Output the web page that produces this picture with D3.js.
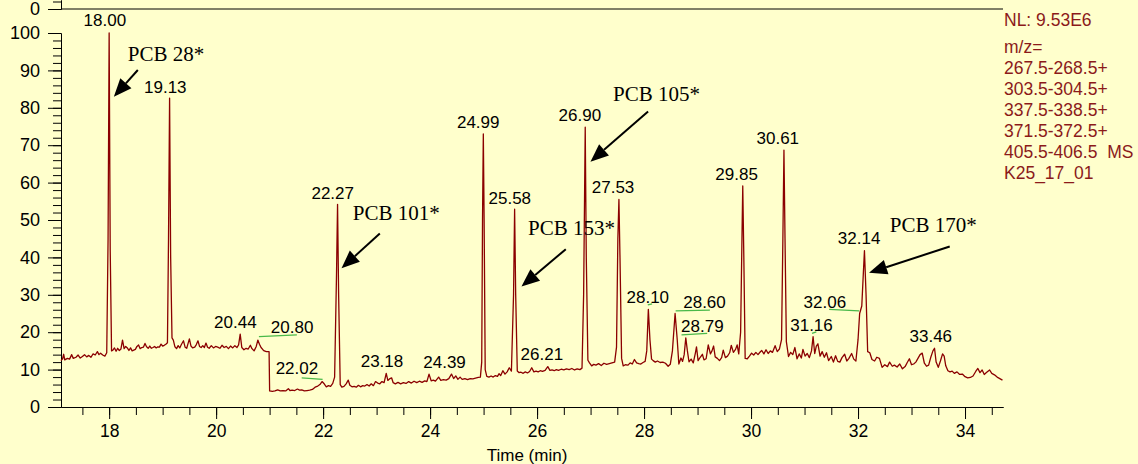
<!DOCTYPE html>
<html>
<head>
<meta charset="utf-8">
<script src="https://cdn.jsdelivr.net/npm/d3@7"></script>
<style>
  html, body { margin: 0; padding: 0; background: #ffffcc; }
  #graph { width: 1138px; height: 464px; }
  .axis text { font-family: "Liberation Sans", Arial, sans-serif; fill: #000; }
  .axis path, .axis line { stroke: #000; }
</style>
</head>
<body>
<div id="graph"></div>
<script>
// chromatogram trace: [retention time (min), relative abundance]
var trace = [
  [17.10,12.4],[17.13,12.9],[17.15,14.1],[17.17,12.6],[17.22,13.0],[17.26,12.8],[17.30,14.0],[17.33,13.0],
  [17.38,13.3],[17.42,13.9],[17.46,13.1],[17.50,13.5],[17.54,14.0],[17.58,13.4],[17.62,13.8],[17.66,13.3],
  [17.70,14.2],[17.74,13.9],[17.78,14.8],[17.81,14.0],[17.84,14.4],[17.88,13.9],[17.92,13.6],[17.955,14.5],
  [17.98,45],[18.00,100],[18.02,42],[18.045,15.0],[18.07,15.2],[18.10,15.8],[18.13,14.9],[18.16,15.7],
  [18.19,15.1],[18.22,15.5],[18.25,17.9],[18.28,15.6],[18.31,16.2],[18.34,15.8],[18.37,15.1],[18.40,15.8],
  [18.43,15.0],[18.46,15.2],[18.49,15.4],[18.52,16.2],[18.55,16.6],[18.58,15.6],[18.61,15.9],[18.64,16.0],
  [18.67,17.0],[18.70,16.1],[18.73,15.7],[18.76,16.3],[18.79,15.7],[18.82,15.9],[18.85,16.2],[18.88,15.8],
  [18.91,16.1],[18.94,16.0],[18.97,16.8],[19.00,16.3],[19.03,16.5],[19.06,16.8],[19.09,17.2],[19.11,45],
  [19.13,82.6],[19.15,40],[19.175,18.5],[19.20,17.9],[19.23,16.1],[19.26,15.6],[19.29,16.4],[19.32,15.8],
  [19.35,16.7],[19.39,17.7],[19.42,16.0],[19.45,15.7],[19.48,17.2],[19.50,18.2],[19.53,16.3],[19.56,15.8],
  [19.60,16.0],[19.63,16.7],[19.66,17.7],[19.69,16.2],[19.72,15.9],[19.75,16.4],[19.78,15.9],[19.81,17.1],
  [19.84,16.0],[19.87,15.7],[19.91,16.4],[19.95,15.8],[19.99,16.2],[20.03,16.0],[20.07,15.7],[20.11,16.5],
  [20.15,15.9],[20.19,16.2],[20.23,15.6],[20.27,16.3],[20.31,15.8],[20.35,16.4],[20.39,15.9],[20.42,16.6],
  [20.45,19.5],[20.48,15.9],[20.52,15.3],[20.56,15.7],[20.60,15.5],[20.64,16.5],[20.67,15.6],[20.71,15.0],
  [20.75,16.2],[20.78,17.9],[20.81,16.8],[20.84,15.9],[20.87,15.4],[20.90,15.0],[20.94,14.8],[20.99,14.8],
  [21.00,4.3],[21.05,4.2],[21.10,4.3],[21.15,4.6],[21.20,4.3],[21.25,4.4],[21.30,4.3],[21.35,4.9],
  [21.38,4.4],[21.42,4.5],[21.47,4.4],[21.52,4.8],[21.56,4.5],[21.60,4.6],[21.65,4.3],[21.70,4.4],
  [21.75,4.5],[21.80,4.7],[21.85,5.3],[21.90,5.6],[21.94,6.0],[21.98,6.8],[22.02,6.2],[22.06,5.4],
  [22.10,5.7],[22.14,5.5],[22.18,6.3],[22.215,8],[22.25,35],[22.27,54.2],[22.29,30],[22.32,6.0],
  [22.35,5.3],[22.39,5.5],[22.43,6.2],[22.47,7.2],[22.50,5.8],[22.54,5.4],[22.58,5.5],[22.62,5.3],
  [22.66,5.8],[22.70,5.4],[22.74,5.7],[22.78,5.6],[22.82,6.0],[22.86,5.6],[22.90,6.2],[22.94,5.7],
  [22.98,6.8],[23.02,6.4],[23.06,6.2],[23.10,6.8],[23.14,6.5],[23.18,9.0],[23.21,7.1],[23.25,7.6],
  [23.28,7.8],[23.31,6.5],[23.35,6.2],[23.40,6.6],[23.45,6.2],[23.50,6.5],[23.55,6.3],[23.60,6.8],
  [23.65,6.4],[23.70,6.9],[23.75,6.5],[23.80,6.9],[23.85,6.6],[23.90,7.0],[23.94,6.8],[23.98,8.8],
  [24.02,7.0],[24.06,7.2],[24.10,6.9],[24.16,8.0],[24.20,7.1],[24.25,7.3],[24.30,7.2],[24.35,7.6],
  [24.40,8.8],[24.44,7.6],[24.48,8.3],[24.52,7.4],[24.56,8.0],[24.60,7.4],[24.65,7.6],[24.70,7.3],
  [24.75,7.6],[24.80,7.5],[24.85,7.7],[24.90,7.9],[24.94,8.0],[24.965,12],[24.98,50],[24.995,73.0],
  [25.01,50],[25.03,10],[25.06,8.2],[25.10,8.0],[25.14,8.3],[25.18,8.0],[25.22,8.4],[25.26,8.2],
  [25.29,8.9],[25.32,8.4],[25.36,9.7],[25.40,8.8],[25.44,9.4],[25.48,10.5],[25.52,9.6],[25.56,30],
  [25.58,52.9],[25.60,30],[25.63,9.6],[25.66,9.2],[25.70,9.3],[25.74,9.0],[25.78,9.4],[25.82,9.1],
  [25.86,9.5],[25.90,10.5],[25.94,9.4],[25.98,9.6],[26.02,9.4],[26.06,9.7],[26.10,9.5],[26.15,9.8],
  [26.20,10.8],[26.24,9.8],[26.28,9.9],[26.32,9.7],[26.36,10.0],[26.40,9.8],[26.45,10.1],[26.50,9.9],
  [26.55,10.2],[26.60,10.0],[26.65,10.3],[26.70,9.9],[26.75,10.2],[26.80,10.0],[26.84,10.4],[26.87,30],
  [26.90,74.8],[26.92,40],[26.95,12.5],[26.98,11.8],[27.02,11.0],[27.06,11.4],[27.10,11.2],[27.15,11.6],
  [27.20,11.1],[27.25,11.7],[27.30,11.4],[27.35,11.6],[27.40,11.8],[27.45,12.0],[27.485,16],[27.51,45],
  [27.53,55.5],[27.55,40],[27.58,13],[27.61,11.0],[27.65,11.3],[27.70,11.2],[27.74,11.8],[27.78,11.5],
  [27.82,12.7],[27.86,11.8],[27.90,11.6],[27.94,11.5],[27.98,11.9],[28.02,12.2],[28.05,15],[28.08,26.1],
  [28.11,18],[28.14,12.8],[28.17,12.4],[28.21,12.0],[28.25,12.3],[28.30,11.9],[28.35,12.0],[28.40,11.7],
  [28.45,10.9],[28.49,11.4],[28.53,15],[28.58,25.0],[28.62,18],[28.65,11.5],[28.69,13.1],[28.72,12.2],
  [28.75,14],[28.78,18.5],[28.81,15],[28.84,12.1],[28.88,12.8],[28.92,11.8],[28.96,14.5],[28.98,16.1],
  [29.01,12.4],[29.05,13.3],[29.09,14.1],[29.12,12.6],[29.16,12.9],[29.20,16.6],[29.24,14.2],[29.27,15.0],
  [29.30,16.3],[29.33,13.4],[29.37,13.0],[29.41,12.4],[29.45,13.2],[29.48,15.2],[29.52,13.2],[29.56,13.6],
  [29.60,14.5],[29.63,16.5],[29.67,14.6],[29.71,15.4],[29.74,16.6],[29.77,14.2],[29.805,20],[29.83,45],
  [29.845,59.1],[29.865,40],[29.89,13.0],[29.93,12.9],[29.97,13.6],[30.01,14.4],[30.05,13.9],[30.09,14.6],
  [30.13,14.0],[30.17,14.7],[30.20,15.1],[30.24,14.2],[30.28,15.3],[30.32,14.3],[30.36,15.0],[30.40,14.6],
  [30.45,16.4],[30.49,14.8],[30.53,15.5],[30.57,18],[30.595,45],[30.615,68.7],[30.635,45],[30.66,17.5],
  [30.70,13.5],[30.74,14.6],[30.78,14.0],[30.82,15.9],[30.86,12.9],[30.90,14.2],[30.94,13.1],[30.97,15.4],
  [31.01,13.6],[31.05,14.3],[31.09,13.2],[31.13,15.0],[31.16,18.8],[31.19,14.3],[31.22,16.3],[31.25,16.9],
  [31.29,13.6],[31.33,14.8],[31.37,13.3],[31.41,14.5],[31.45,12.4],[31.50,13.5],[31.54,12.0],[31.58,13.7],
  [31.62,12.2],[31.66,12.0],[31.70,13.2],[31.75,14.1],[31.79,12.3],[31.83,13.0],[31.88,14.3],[31.92,12.8],
  [31.96,12.3],[32.00,18],[32.03,25.0],[32.07,27],[32.10,36],[32.12,41.8],[32.15,30],[32.18,14.8],
  [32.22,14.5],[32.26,12.7],[32.31,12.3],[32.35,13.3],[32.40,13.0],[32.45,10.6],[32.50,11.3],[32.55,10.8],
  [32.59,12.0],[32.64,10.9],[32.68,11.2],[32.73,10.7],[32.78,11.5],[32.83,10.2],[32.88,10.8],[32.92,11.9],
  [32.96,12.9],[33.00,11.3],[33.04,11.5],[33.08,12.0],[33.12,13.0],[33.16,14.0],[33.20,14.4],[33.24,11.7],
  [33.28,10.9],[33.32,11.2],[33.36,13.3],[33.40,15.0],[33.43,15.7],[33.46,12.0],[33.50,10.6],[33.54,12.3],
  [33.58,14.2],[33.61,13.6],[33.64,11.0],[33.68,9.7],[33.72,9.4],[33.76,9.6],[33.80,9.0],[33.85,9.4],
  [33.90,8.7],[33.95,8.8],[34.00,8.1],[34.05,7.8],[34.10,7.9],[34.15,8.3],[34.20,9.5],[34.24,10.3],
  [34.28,9.2],[34.32,9.9],[34.36,8.7],[34.40,9.2],[34.46,9.9],[34.50,9.0],[34.55,8.6],[34.60,8.0],
  [34.65,7.6],[34.70,7.2]
];

// peak labels and where each label sits (time, abundance of its baseline)
var peakLabels = ["18.00","19.13","20.44","20.80","22.02","22.27","23.18","24.39","24.99","25.58","26.21",
                  "26.90","27.53","28.10","28.60","28.79","29.85","30.61","31.16","32.06","32.14","33.46"];
var labelRt    = [17.92,19.05,20.36,21.42,21.51,22.18,23.10,24.27,24.90,25.49,26.09,
                  26.80,27.42,28.07,29.13,29.09,29.73,30.50,31.13,31.38,32.02,33.36];
var labelAbund = [101.9,84.0,21.2,19.9,8.7,55.5,10.7,10.5,74.5,54.4,12.5,
                  76.5,57.3,27.7,26.6,20.1,60.7,70.2,20.3,26.6,43.5,17.4];

// green label connectors: [t1, v1, t2, v2]
var greenLinks = [
  [20.80,18.8,21.51,19.3],[21.60,7.8,21.99,7.4],[28.07,27.3,28.15,27.6],[28.59,25.7,29.23,25.9],
  [28.70,19.3,29.18,19.7],[31.14,19.7,31.22,20.1],[31.46,26.1,32.02,25.7]
];

// compound annotations
var pcbNames   = ["PCB 28*","PCB 101*","PCB 153*","PCB 105*","PCB 170*"];
var pcbTextAt  = [[18.35,92.6],[22.555,50.0],[25.832,45.9],[27.421,81.8],[32.593,46.8]];
var pcbArrowFrom = [[18.536,90.1],[23.06,46.4],[26.537,42.2],[28.075,79.0],[33.714,42.9]];
var pcbArrowTo   = [[18.088,82.97],[22.344,37.1],[25.708,32.2],[26.998,65.6],[32.206,35.9]];

// axis ticks
var xTicks = [18,20,22,24,26,28,30,32,34];
var yTicks = [0,10,20,30,40,50,60,70,80,90,100];

// scan info
var infoLines = ["NL: 9.53E6","m/z=","267.5-268.5+","303.5-304.5+","337.5-338.5+","371.5-372.5+",
                 "405.5-406.5  MS","K25_17_01"];

var W = 1138, H = 464;
var margin = {top: 33, right: 135, bottom: 57, left: 61},
    width = W - margin.left - margin.right,
    height = H - margin.top - margin.bottom;

var traceColor = "#8b0000";

var x = d3.scaleLinear().domain([17.1, 34.71]).range([0, width]);
var y = d3.scaleLinear().domain([0, 100]).range([height, 0]);

var svg0 = d3.select("#graph").append("svg")
    .attr("width", W).attr("height", H)
    .style("background", "#ffffcc");

var svg = svg0.append("g")
    .attr("transform", "translate(" + margin.left + "," + margin.top + ")");

// bottom edge of the panel above (its zero line)
var yTop = d3.scaleLinear().domain([0, 2.4]).range([9 - margin.top, -margin.top]);
svg.append("g").attr("class", "axis")
    .call(d3.axisLeft(yTop).tickValues([2]).tickSize(8).tickFormat("").tickSizeOuter(0));
svg.append("g").attr("class", "axis")
    .call(d3.axisLeft(yTop).tickValues([0]).tickSize(13).tickPadding(8)
      .tickFormat(d3.format("d")).tickSizeOuter(0))
    .selectAll("text").style("font-size", "18px");
svg.append("line")
    .attr("x1", 0).attr("x2", width)
    .attr("y1", yTop(0)).attr("y2", yTop(0))
    .attr("stroke", "#000");

// y axis: minor then major
svg.append("g").attr("class", "axis")
    .call(d3.axisLeft(y).tickValues(d3.range(0, 101, 2)).tickSize(8).tickFormat("").tickSizeOuter(0));
svg.append("g").attr("class", "axis")
    .call(d3.axisLeft(y).tickValues(yTicks).tickSize(13).tickPadding(8).tickSizeOuter(0))
    .selectAll("text").style("font-size", "18px");

// x axis: minor then major
svg.append("g").attr("class", "axis")
    .attr("transform", "translate(0," + height + ")")
    .call(d3.axisBottom(x).tickValues(d3.range(17.5, 34.6, 0.5)).tickSize(8).tickFormat("").tickSizeOuter(0));
svg.append("g").attr("class", "axis")
    .attr("transform", "translate(0," + height + ")")
    .call(d3.axisBottom(x).tickValues(xTicks).tickSize(12).tickPadding(6).tickSizeOuter(0))
    .selectAll("text").style("font-size", "17.5px");

svg.append("text")
    .attr("x", width / 2 - 5)
    .attr("y", height + 54)
    .attr("text-anchor", "middle")
    .style("font-family", "Liberation Sans, Arial, sans-serif")
    .style("font-size", "17px")
    .text("Time (min)");

// trace
var valueLine = d3.line()
    .x(function(d) { return x(d[0]); })
    .y(function(d) { return y(d[1]); });

svg.append("path")
    .datum(trace)
    .attr("d", valueLine)
    .attr("fill", "none")
    .attr("stroke", traceColor)
    .attr("stroke-width", 1.3)
    .attr("stroke-linejoin", "round");

// green connectors
svg.selectAll(".link")
    .data(greenLinks)
    .enter().append("line")
    .attr("class", "link")
    .attr("x1", function(d) { return x(d[0]); })
    .attr("y1", function(d) { return y(d[1]); })
    .attr("x2", function(d) { return x(d[2]); })
    .attr("y2", function(d) { return y(d[3]); })
    .attr("stroke", "#49b949")
    .attr("stroke-width", 1.3);

// peak labels
svg.selectAll(".plabel")
    .data(peakLabels)
    .enter().append("text")
    .attr("class", "plabel")
    .attr("x", function(d, i) { return x(labelRt[i]); })
    .attr("y", function(d, i) { return y(labelAbund[i]); })
    .attr("text-anchor", "middle")
    .style("font-family", "Liberation Sans, Arial, sans-serif")
    .style("font-size", "17px")
    .style("fill", "#000")
    .text(function(d) { return d; });

// PCB annotations with arrows
pcbNames.forEach(function(name, i) {
  svg.append("text")
      .attr("x", x(pcbTextAt[i][0]))
      .attr("y", y(pcbTextAt[i][1]))
      .style("font-family", "Liberation Serif, Times New Roman, serif")
      .style("font-size", "21px")
      .style("fill", "#000")
      .text(name);

  var x1 = x(pcbArrowFrom[i][0]), y1 = y(pcbArrowFrom[i][1]),
      x2 = x(pcbArrowTo[i][0]), y2 = y(pcbArrowTo[i][1]);
  var dx = x2 - x1, dy = y2 - y1, len = Math.sqrt(dx * dx + dy * dy);
  var ux = dx / len, uy = dy / len;
  var headLen = 18, headW = 7.5;
  var bx = x2 - ux * headLen, by = y2 - uy * headLen;

  svg.append("line")
      .attr("x1", x1).attr("y1", y1)
      .attr("x2", bx).attr("y2", by)
      .attr("stroke", "#000")
      .attr("stroke-width", 2);

  svg.append("path")
      .attr("d", "M" + x2 + "," + y2 +
                 "L" + (bx - uy * headW) + "," + (by + ux * headW) +
                 "L" + (bx + uy * headW) + "," + (by - ux * headW) + "Z")
      .attr("fill", "#000");
});

// scan info on the right
svg0.selectAll(".info")
    .data(infoLines)
    .enter().append("text")
    .attr("class", "info")
    .attr("x", margin.left + width + 1)
    .attr("y", function(d, i) { return i === 0 ? 26 : 52.5 + (i - 1) * 21.1; })
    .style("font-family", "Liberation Sans, Arial, sans-serif")
    .style("font-size", "17.5px")
    .style("fill", "#8b1a1a")
    .style("white-space", "pre")
    .text(function(d) { return d; });
</script>
</body>
</html>
